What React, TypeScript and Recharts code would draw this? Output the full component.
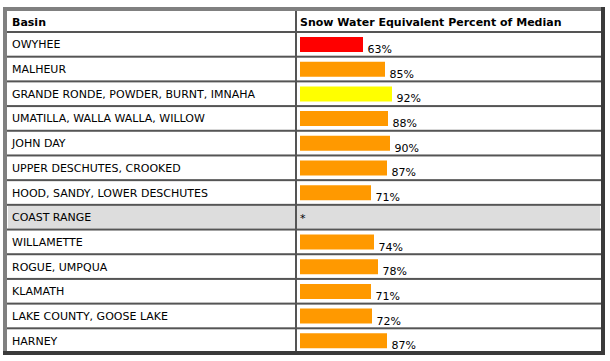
import { BarChart, Bar, XAxis, YAxis, Cell, LabelList } from 'recharts'

const basins = [
  'OWYHEE',
  'MALHEUR',
  'GRANDE RONDE, POWDER, BURNT, IMNAHA',
  'UMATILLA, WALLA WALLA, WILLOW',
  'JOHN DAY',
  'UPPER DESCHUTES, CROOKED',
  'HOOD, SANDY, LOWER DESCHUTES',
  'COAST RANGE',
  'WILLAMETTE',
  'ROGUE, UMPQUA',
  'KLAMATH',
  'LAKE COUNTY, GOOSE LAKE',
  'HARNEY',
]
// percent of median, null = no data (shown as *)
const pctOfMedian = [63, 85, 92, 88, 90, 87, 71, null, 74, 78, 71, 72, 87]
const barColors = ['#ff0000', '#ff9900', '#ffff00', '#ff9900', '#ff9900', '#ff9900', '#ff9900', '#ff9900', '#ff9900', '#ff9900', '#ff9900', '#ff9900', '#ff9900']
const headers = ['Basin', 'Snow Water Equivalent Percent of Median']

const data = basins.map((basin, i) => ({ basin, pct: pctOfMedian[i], color: barColors[i] }))

const W = 610
const H = 361
const TOP = 32
const BOTTOM = 8
const BAND = (H - TOP - BOTTOM) / basins.length
const FONT = '"DejaVu Sans", Verdana, sans-serif'

const BasinTick = ({ y, payload, index }: any) => {
  const noData = pctOfMedian[index] == null
  const top = y - BAND / 2
  return (
    <g>
      {noData && (
        <>
          <rect x={8} y={top + 1} width={287} height={BAND - 2} fill="#dddddd" />
          <rect x={297} y={top + 1} width={303} height={BAND - 2} fill="#dddddd" />
          <text x={300} y={y + 5} fontSize={11} fontFamily={FONT} fill="#000">*</text>
        </>
      )}
      <rect x={7} y={top - 1} width={594} height={2} fill="#555555" />
      <text x={12} y={y + 4} fontSize={11} fontFamily={FONT} fill="#000">{payload.value}</text>
    </g>
  )
}

const PctLabel = ({ x, y, width, value }: any) => {
  if (value == null) return null
  return (
    <text x={x + width + 4.5} y={y + 16} fontSize={11} fontFamily={FONT} fill="#000">{value}%</text>
  )
}

export default function App() {
  return (
    <div style={{ position: 'absolute', left: 0, top: 0, width: W, height: H, background: '#fff' }}>
      <BarChart width={W} height={H} data={data} layout="vertical" margin={{ top: TOP, right: 10, bottom: BOTTOM, left: 0 }}>
        {/* table frame */}
        <rect x={3} y={7} width={602} height={4} fill="#808080" />
        <rect x={3} y={7} width={4} height={348} fill="#808080" />
        <rect x={601} y={7} width={4} height={348} fill="#3a3a3a" />
        <rect x={3} y={351} width={602} height={4} fill="#3a3a3a" />
        <rect x={295} y={11} width={2} height={340} fill="#555555" />
        <text x={12} y={26} fontSize={11} fontWeight="bold" fontFamily={FONT} fill="#000">{headers[0]}</text>
        <text x={300} y={26} fontSize={11} fontWeight="bold" fontFamily={FONT} fill="#000">{headers[1]}</text>
        <XAxis type="number" domain={[0, 300]} hide />
        <YAxis type="category" dataKey="basin" width={300} axisLine={false} tickLine={false} tick={<BasinTick />} interval={0} />
        <Bar dataKey="pct" barSize={15} isAnimationActive={false}>
          {data.map((d, i) => <Cell key={i} fill={d.color} />)}
          <LabelList dataKey="pct" content={<PctLabel />} />
        </Bar>
      </BarChart>
    </div>
  )
}
